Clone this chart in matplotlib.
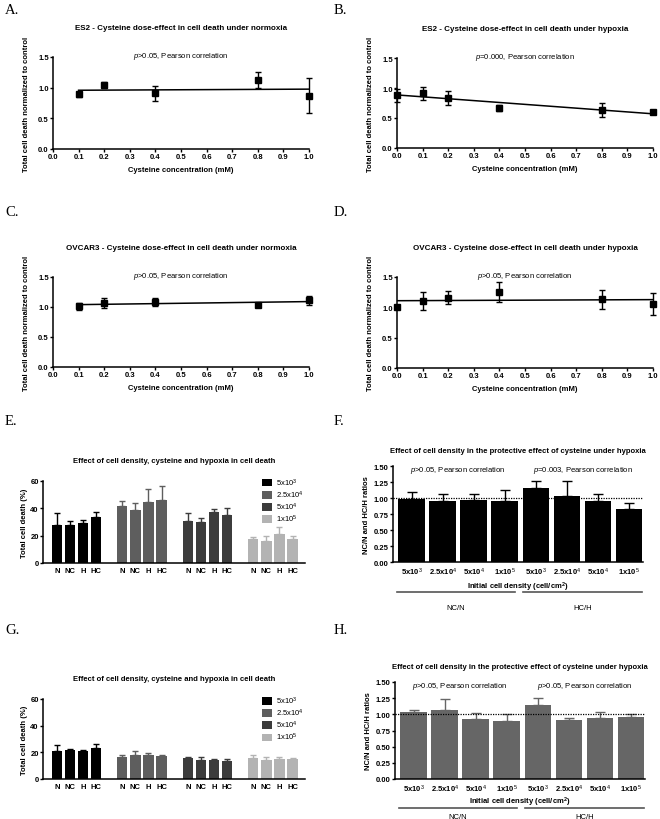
import matplotlib
matplotlib.use("Agg")
import matplotlib.pyplot as plt
import numpy as np

plt.rcParams['font.family'] = ['Liberation Sans', 'DejaVu Sans']
plt.rcParams['mathtext.fontset'] = 'custom'
plt.rcParams['mathtext.rm'] = 'Liberation Sans'
plt.rcParams['mathtext.it'] = 'Liberation Sans:italic'
plt.rcParams['mathtext.bf'] = 'Liberation Sans:bold'

# dose-effect panels (A-D)
conc_n = [0.1, 0.2, 0.4, 0.8, 1.0]
conc_h = [0.0, 0.1, 0.2, 0.4, 0.8, 1.0]
es2_norm = [0.89, 1.04, 0.91, 1.12, 0.87]
es2_norm_err = [0.04, 0.05, 0.12, 0.13, 0.28]
es2_hyp = [0.88, 0.91, 0.83, 0.67, 0.63, 0.60]
es2_hyp_err = [0.11, 0.11, 0.12, 0.05, 0.12, 0.02]
ovc_norm = [1.01, 1.07, 1.08, 1.04, 1.11]
ovc_norm_err = [0.06, 0.08, 0.07, 0.02, 0.07]
ovc_hyp = [1.00, 1.10, 1.16, 1.25, 1.13, 1.06]
ovc_hyp_err = [0.02, 0.15, 0.11, 0.17, 0.16, 0.18]

# cell death panels (E, G)
conditions = ['N', 'NC', 'H', 'HC']
densities = ['5x10$^3$', '2.5x10$^4$', '5x10$^4$', '1x10$^5$']
dens_colors = ['#000000', '#5e5e5e', '#3c3c3c', '#b3b3b3']
death_E = [[28, 27.5, 29.5, 34], [41.5, 39, 44.7, 45.8],
           [30.9, 29.7, 37, 34.8], [17.2, 16.2, 21, 17.6]]
death_E_err = [[8.6, 3.3, 2, 3.4], [4.1, 5, 9.2, 10.2],
               [5.9, 3.3, 2.5, 5.2], [1.7, 3.4, 5.2, 2]]
death_G = [[20.75, 21.75, 20.75, 23.5], [16.75, 17.75, 18.25, 17.25],
           [15.5, 14.5, 14.25, 13.75], [15.75, 14.5, 15.25, 14.75]]
death_G_err = [[4.75, 1, 1.25, 2.75], [1.25, 3.5, 1.5, 0.5],
               [1.25, 1.75, 1, 1.5], [2, 1.75, 1.25, 1]]

# ratio panels (F, H)
ratio_labels = densities + densities
ratio_F = [0.99, 0.95, 0.97, 0.96, 1.16, 1.035, 0.947, 0.833]
ratio_F_err = [0.11, 0.12, 0.10, 0.17, 0.11, 0.23, 0.12, 0.09]
ratio_H = [1.03, 1.06, 0.933, 0.897, 1.139, 0.918, 0.948, 0.959]
ratio_H_err = [0.03, 0.18, 0.08, 0.11, 0.12, 0.03, 0.09, 0.05]

W, H = 660, 820
fig = plt.figure(figsize=(W / 100, H / 100), dpi=100)


def px_axes(l, t, r, b):
    return fig.add_axes([l / W, 1 - b / H, (r - l) / W, (b - t) / H])


def style(ax):
    for s in ['top', 'right']:
        ax.spines[s].set_visible(False)
    for s in ['left', 'bottom']:
        ax.spines[s].set_linewidth(1.1)
    ax.tick_params(labelsize=5.5, width=1, length=2, pad=1)
    for lab in ax.get_xticklabels() + ax.get_yticklabels():
        lab.set_fontweight('bold')


def letter(x, y, s):
    fig.text(x / W, 1 - y / H, s, family='Liberation Serif', fontsize=10.5,
             va='center', ha='left')


def dose_panel(box, x, y, err, title, ptext):
    ax = px_axes(*box)
    ax.errorbar(x, y, yerr=err, fmt='s', color='k', ms=4.5, capsize=2,
                elinewidth=1, capthick=1, clip_on=False, zorder=3)
    k, c = np.polyfit(x, y, 1)
    xs = np.array([min(x), max(x)])
    ax.plot(xs, k * xs + c, color='k', lw=1.1)
    ax.set_xlim(0, 1.0)
    ax.set_ylim(0, 1.5)
    ax.set_xticks(np.arange(0, 1.01, 0.1))
    ax.set_yticks([0, 0.5, 1.0, 1.5])
    ax.set_xticklabels(['%.1f' % v for v in np.arange(0, 1.01, 0.1)])
    ax.set_yticklabels(['0.0', '0.5', '1.0', '1.5'])
    ax.set_xlabel('Cysteine concentration (mM)', fontsize=5.5,
                  fontweight='bold', labelpad=4)
    ax.set_ylabel('Total cell death normalized to control', fontsize=5.5,
                  fontweight='bold', labelpad=6)
    ax.set_title(title, fontsize=5.8, fontweight='bold', pad=20)
    ax.text(0.5, 1.53, ptext, fontsize=5.5, ha='center', va='center')
    style(ax)
    return ax


dose_panel((53, 58, 309, 150), conc_n, es2_norm, es2_norm_err,
           'ES2 - Cysteine dose-effect in cell death under normoxia',
           '$p$>0.05, Pearson correlation')
dose_panel((397, 59, 653, 149), conc_h, es2_hyp, es2_hyp_err,
           'ES2 - Cysteine dose-effect in cell death under hypoxia',
           '$p$=0.000, Pearson correlation')
dose_panel((53, 278, 309, 368), conc_n, ovc_norm, ovc_norm_err,
           'OVCAR3 - Cysteine dose-effect in cell death under normoxia',
           '$p$>0.05, Pearson correlation')
dose_panel((397, 278, 653, 369), conc_h, ovc_hyp, ovc_hyp_err,
           'OVCAR3 - Cysteine dose-effect in cell death under hypoxia',
           '$p$>0.05, Pearson correlation')


def death_panel(box, vals, errs):
    ax = px_axes(*box)
    pos_all, lab_all = [], []
    for g in range(4):
        pos = [g * 5 + i for i in range(4)]
        ax.bar(pos, vals[g], width=0.8, color=dens_colors[g],
               label=densities[g], zorder=2)
        ax.errorbar(pos, vals[g], yerr=[[0] * 4, errs[g]], fmt='none',
                    ecolor=dens_colors[g], elinewidth=1, capsize=2.5,
                    capthick=1, zorder=1)
        pos_all += pos
        lab_all += conditions
    ax.set_xlim(-1.05, 18.95)
    ax.set_ylim(0, 60)
    ax.set_yticks([0, 20, 40, 60])
    ax.set_xticks(pos_all)
    ax.set_xticklabels(lab_all)
    ax.set_ylabel('Total cell death (%)', fontsize=5.5, fontweight='bold',
                  labelpad=2)
    ax.set_title('Effect of cell density, cysteine and hypoxia in cell death',
                 fontsize=5.5, fontweight='bold', pad=14)
    style(ax)
    ax.tick_params(axis='x', length=0, pad=3)
    ax.legend(loc='upper left', bbox_to_anchor=(0.82, 1.1), frameon=False,
              fontsize=5.5, handlelength=1.3, handleheight=1.1,
              handletextpad=0.6, labelspacing=0.1, borderpad=0)
    return ax


def ratio_panel(box, vals, errs, color, ptexts, xpad, grp_y, grp_lab_y):
    ax = px_axes(*box)
    pos = np.arange(len(vals))
    ax.bar(pos, vals, width=0.86, color=color, zorder=2)
    ax.errorbar(pos, vals, yerr=[[0] * len(vals), errs], fmt='none',
                ecolor=color, elinewidth=1, capsize=3.5, capthick=1, zorder=1)
    ax.axhline(1.0, color='k', lw=0.9, ls=(0, (1, 1)), zorder=3)
    ax.set_xlim(-0.6, 7.45)
    ax.set_ylim(0, 1.5)
    ax.set_yticks([0, 0.25, 0.5, 0.75, 1.0, 1.25, 1.5])
    ax.set_yticklabels(['0.00', '0.25', '0.50', '0.75', '1.00', '1.25', '1.50'])
    ax.set_xticks(pos)
    ax.set_xticklabels(ratio_labels)
    ax.set_xlabel('Initial cell density (cell/cm$^\\mathbf{2}$)', fontsize=5.5,
                  fontweight='bold', labelpad=xpad)
    ax.set_ylabel('NC/N and HC/H ratios', fontsize=5.5, fontweight='bold',
                  labelpad=3)
    ax.set_title('Effect of cell density in the protective effect of cysteine '
                 'under hypoxia', fontsize=5.5, fontweight='bold', pad=10)
    ax.text(1.5, 1.45, ptexts[0], fontsize=5.5, ha='center', va='center')
    ax.text(5.5, 1.45, ptexts[1], fontsize=5.5, ha='center', va='center')
    style(ax)
    ax.tick_params(axis='x', length=0, pad=3)
    tr = ax.transAxes
    ax.plot([0.016, 0.488], [grp_y, grp_y], color='#555555', lw=1.2,
            transform=tr, clip_on=False)
    ax.plot([0.52, 0.996], [grp_y, grp_y], color='#555555', lw=1.2,
            transform=tr, clip_on=False)
    ax.text(0.25, grp_lab_y, 'NC/N', transform=tr, fontsize=5.5,
            ha='center', va='center')
    ax.text(0.76, grp_lab_y, 'HC/H', transform=tr, fontsize=5.5,
            ha='center', va='center')
    return ax


death_panel((43, 482, 305, 564), death_E, death_E_err)
death_panel((43, 700, 305, 780), death_G, death_G_err)
ratio_panel((393, 467, 643, 563), ratio_F, ratio_F_err, '#000000',
            ['$p$>0.05, Pearson correlation', '$p$=0.003, Pearson correlation'],
            1.5, -0.31, -0.47)
ratio_panel((395, 683, 645, 780), ratio_H, ratio_H_err, '#666666',
            ['$p$>0.05, Pearson correlation', '$p$>0.05, Pearson correlation'],
            0, -0.30, -0.385)

letter(5, 10, 'A.')
letter(334, 10, 'B.')
letter(5, 213, 'C.')
letter(334, 213, 'D.')
letter(5, 422, 'E.')
letter(334, 422, 'F.')
letter(5, 631, 'G.')
letter(334, 631, 'H.')

fig.savefig('out.png', dpi=100)
